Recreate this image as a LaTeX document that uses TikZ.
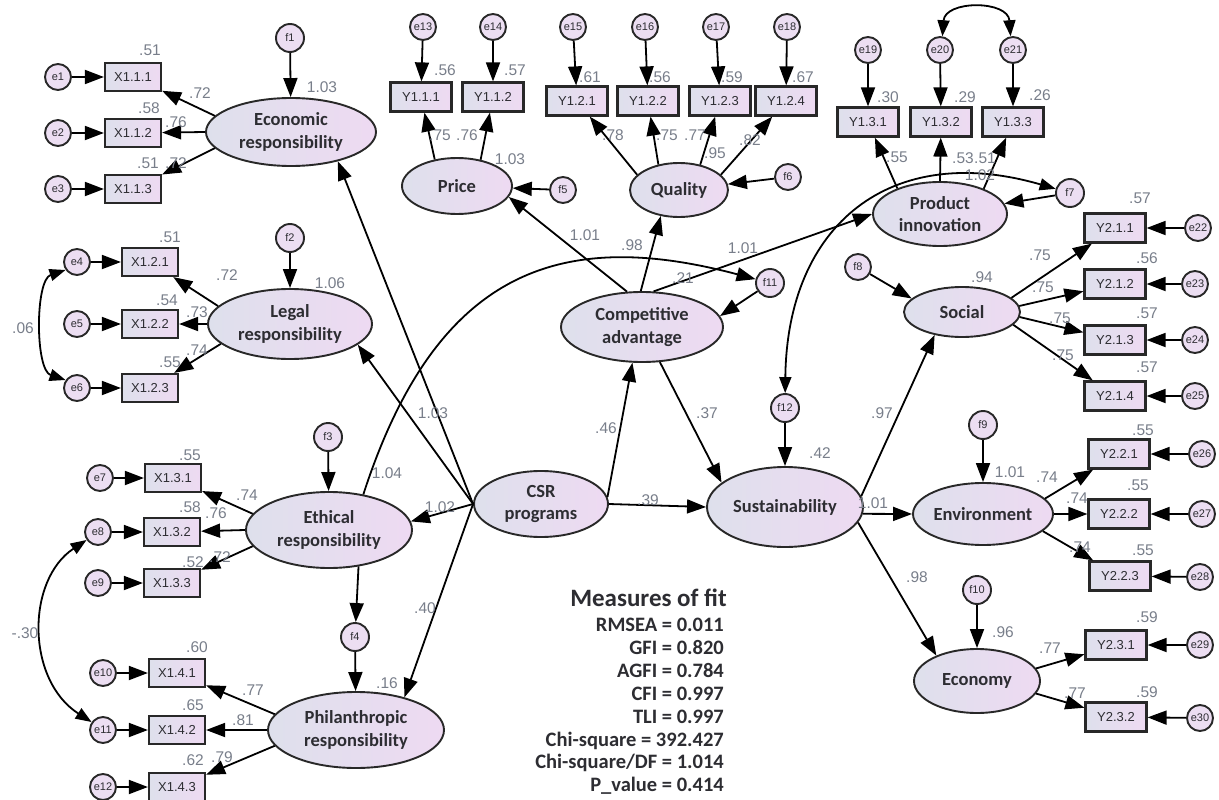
\documentclass[tikz,border=0pt]{standalone}
\usepackage{fontspec}
\setmainfont{Liberation Sans}
\newfontfamily\carl{Carlito}
\usetikzlibrary{shapes.geometric,arrows.meta}
\definecolor{linec}{RGB}{40,40,40}
\definecolor{fillL}{RGB}{222,224,236}
\definecolor{fillR}{RGB}{238,218,242}
\definecolor{circf}{RGB}{236,222,242}
\definecolor{labc}{RGB}{120,126,138}
\definecolor{txtc}{RGB}{45,45,50}
\tikzset{
 lat/.style={ellipse, draw=linec, line width=1.9pt, left color=fillL, right color=fillR, inner sep=0pt, align=center, text=txtc, font=\carl\bfseries\fontsize{18.5}{22.5}\selectfont},
 obs/.style={rectangle, draw=linec, line width=2.2pt, left color=fillL, right color=fillR, inner sep=0pt, minimum width=56pt, minimum height=28pt, font=\fontsize{13}{13}\selectfont, text=txtc},
 obsy/.style={obs, minimum width=61pt, minimum height=29pt},
 err/.style={circle, draw=linec, line width=1.9pt, fill=circf, inner sep=0pt, minimum size=26pt, font=\fontsize{11}{11}\selectfont, text=txtc},
 dstb/.style={err, minimum size=28pt},
 lab/.style={font=\fontsize{15.5}{15.5}\selectfont, text=labc, inner sep=0pt},
 fitt/.style={font=\carl\bfseries\fontsize{20.5}{20.5}\selectfont, text=txtc, inner sep=0pt, anchor=base east},
 arr/.style={draw=black, line width=1.8pt, -{Triangle[length=19pt,width=14pt]}},
 cov/.style={draw=black, line width=1.8pt, {Triangle[length=16pt,width=12pt]}-{Triangle[length=16pt,width=12pt]}},
}
\begin{document}
\begin{tikzpicture}[x=1pt,y=-1pt]
\useasboundingbox (0,0) rectangle (1219,800);
\fill[white] (0,0) rectangle (1219,800);
% latent variables
\node[lat, minimum width=170pt, minimum height=68pt] (econ) at (291,132) {Economic\\responsibility};
\node[lat, minimum width=164pt, minimum height=70pt] (legal) at (290,324) {Legal\\responsibility};
\node[lat, minimum width=166pt, minimum height=76pt] (eth) at (329,530) {Ethical\\responsibility};
\node[lat, minimum width=176pt, minimum height=76pt] (phil) at (356,730) {Philanthropic\\responsibility};
\node[lat, minimum width=134pt, minimum height=66pt] (csr) at (541,504) {CSR\\programs};
\node[lat, minimum width=110pt, minimum height=56pt] (price) at (457,186) {Price};
\node[lat, minimum width=98pt, minimum height=54pt] (qual) at (679,190) {Quality};
\node[lat, minimum width=162pt, minimum height=70pt] (comp) at (642,327) {Competitive\\advantage};
\node[lat, minimum width=134pt, minimum height=64pt] (prod) at (940,214) {Product\\innovation};
\node[lat, minimum width=156pt, minimum height=80pt] (sust) at (785,507) {Sustainability};
\node[lat, minimum width=116pt, minimum height=50pt] (soc) at (962,312) {Social};
\node[lat, minimum width=140pt, minimum height=62pt] (env) at (983,514) {Environment};
\node[lat, minimum width=126pt, minimum height=64pt] (ecny) at (977,681) {Economy};
% disturbances
\node[dstb] (f1) at (290,38) {f1};
\node[dstb] (f2) at (290,238) {f2};
\node[dstb] (f3) at (328,437) {f3};
\node[dstb] (f4) at (355,637) {f4};
\node[err] (f5) at (563,190) {f5};
\node[err] (f6) at (788,177) {f6};
\node[dstb] (f7) at (1070,193) {f7};
\node[err] (f8) at (858,267) {f8};
\node[dstb] (f9) at (983,425) {f9};
\node[dstb] (f10) at (977,590) {f10};
\node[dstb] (f11) at (770,283) {f11};
\node[dstb] (f12) at (785,408) {f12};
% observed X
\node[obs] (x111) at (133,77) {X1.1.1};
\node[obs] (x112) at (133,133) {X1.1.2};
\node[obs] (x113) at (133,189) {X1.1.3};
\node[obs] (x121) at (150,262) {X1.2.1};
\node[obs] (x122) at (150,324) {X1.2.2};
\node[obs] (x123) at (150,388) {X1.2.3};
\node[obs] (x131) at (173,478) {X1.3.1};
\node[obs] (x132) at (172,532) {X1.3.2};
\node[obs] (x133) at (172,583) {X1.3.3};
\node[obs] (x141) at (177,673) {X1.4.1};
\node[obs] (x142) at (177,730) {X1.4.2};
\node[obs] (x143) at (177,787) {X1.4.3};
% observed Y
\node[obsy] (y111) at (421,97) {Y1.1.1};
\node[obsy] (y112) at (493,97) {Y1.1.2};
\node[obsy] (y121) at (577,101) {Y1.2.1};
\node[obsy] (y122) at (648,101) {Y1.2.2};
\node[obsy] (y123) at (720,101) {Y1.2.3};
\node[obsy] (y124) at (786,101) {Y1.2.4};
\node[obsy] (y131) at (868,122) {Y1.3.1};
\node[obsy] (y132) at (941,122) {Y1.3.2};
\node[obsy] (y133) at (1013,122) {Y1.3.3};
\node[obsy] (y211) at (1115,228) {Y2.1.1};
\node[obsy] (y212) at (1115,284) {Y2.1.2};
\node[obsy] (y213) at (1115,340) {Y2.1.3};
\node[obsy] (y214) at (1115,396) {Y2.1.4};
\node[obsy] (y221) at (1119,454) {Y2.2.1};
\node[obsy] (y222) at (1119,514) {Y2.2.2};
\node[obsy] (y223) at (1120,576) {Y2.2.3};
\node[obsy] (y231) at (1116,645) {Y2.3.1};
\node[obsy] (y232) at (1116,717) {Y2.3.2};
% errors
\node[err] (e1) at (58,77) {e1};
\node[err] (e2) at (58,133) {e2};
\node[err] (e3) at (58,189) {e3};
\node[err] (e4) at (77,262) {e4};
\node[err] (e5) at (77,324) {e5};
\node[err] (e6) at (77,388) {e6};
\node[err] (e7) at (100,478) {e7};
\node[err] (e8) at (98,532) {e8};
\node[err] (e9) at (98,583) {e9};
\node[err] (e10) at (103,673) {e10};
\node[err] (e11) at (103,730) {e11};
\node[err] (e12) at (103,787) {e12};
\node[err] (e13) at (423,27) {e13};
\node[err] (e14) at (493,27) {e14};
\node[err] (e15) at (573,27) {e15};
\node[err] (e16) at (645,27) {e16};
\node[err] (e17) at (716,27) {e17};
\node[err] (e18) at (787,27) {e18};
\node[err] (e19) at (868,50) {e19};
\node[err] (e20) at (940,50) {e20};
\node[err] (e21) at (1013,50) {e21};
\node[err] (e22) at (1198,228) {e22};
\node[err] (e23) at (1195,284) {e23};
\node[err] (e24) at (1195,340) {e24};
\node[err] (e25) at (1195,396) {e25};
\node[err] (e26) at (1202,454) {e26};
\node[err] (e27) at (1202,514) {e27};
\node[err] (e28) at (1200,577) {e28};
\node[err] (e29) at (1200,645) {e29};
\node[err] (e30) at (1200,718) {e30};
% error arrows
\foreach \a/\b in {e1/x111,e2/x112,e3/x113,e4/x121,e5/x122,e6/x123,e7/x131,e8/x132,e9/x133,e10/x141,e11/x142,e12/x143,
 e13/y111,e14/y112,e15/y121,e16/y122,e17/y123,e18/y124,e19/y131,e20/y132,e21/y133,
 e22/y211,e23/y212,e24/y213,e25/y214,e26/y221,e27/y222,e28/y223,e29/y231,e30/y232}
 {\draw[arr] (\a) -- (\b);}
% loadings
\draw[arr] (econ.168) -- (x111);
\draw[arr] (econ.180) -- (x112);
\draw[arr] (econ.192) -- (x113);
\draw[arr] (legal.166) -- (x121);
\draw[arr] (legal.180) -- (x122);
\draw[arr] (legal.196) -- (x123);
\draw[arr] (eth.168) -- (x131);
\draw[arr] (eth.180) -- (x132);
\draw[arr] (eth.192) -- (x133);
\draw[arr] (phil.169) -- (x141);
\draw[arr] (phil.180) -- (x142);
\draw[arr] (phil.191) -- (x143);
\draw[arr] (price.130) -- (y111);
\draw[arr] (price.48) -- (y112);
\draw[arr] (qual.160) -- (y121);
\draw[arr] (qual.129) -- (y122);
\draw[arr] (qual.50) -- (y123);
\draw[arr] (qual.20) -- (y124);
\draw[arr] (prod.149) -- (y131);
\draw[arr] (prod.90) -- (y132);
\draw[arr] (prod.30) -- (y133);
\draw[arr] (soc.16) -- (y211);
\draw[arr] (soc.6) -- (y212);
\draw[arr] (soc.-5) -- (y213);
\draw[arr] (soc.-14) -- (y214);
\draw[arr] (env.14) -- (y221);
\draw[arr] (env.0) -- (y222);
\draw[arr] (env.-16) -- (y223);
\draw[arr] (ecny.12) -- (y231);
\draw[arr] (ecny.-12) -- (y232);
% structural paths
\draw[arr] (csr.west) -- (econ.-32);
\draw[arr] (csr.west) -- (legal.-17);
\draw[arr] (csr.west) -- (eth.6);
\draw[arr] (csr.west) -- (phil.34);
\draw[arr] (csr.6) -- (comp.-105);
\draw[arr] (csr.east) -- (sust.west);
\draw[arr] (comp.113) -- (price.-12);
\draw[arr] (comp.92) -- (qual.-125);
\draw[arr] (comp.72) -- (prod.west);
\draw[arr] (comp.-63) -- (sust.159);
\draw[arr] (f11) -- (comp.8);
\draw[arr] (f12) -- (sust.north);
\draw[arr] (sust.8) -- (soc.-140);
\draw[arr] (sust.-5) -- (env.west);
\draw[arr] (sust.-12) -- (ecny.148);
\draw[arr] (f8) -- (soc.165);
\draw[arr] (f9) -- (env);
\draw[arr] (f10) -- (ecny);
\draw[arr] (f5) -- (price);
\draw[arr] (f6) -- (qual);
\draw[arr] (f7) -- (prod);
\draw[arr] (f1) -- (econ);
\draw[arr] (f2) -- (legal);
\draw[arr] (f3) -- (eth);
\draw[arr] (eth.-51) -- (f4);
\draw[arr] (f4) -- (phil);
\draw[arr] (eth.46) .. controls (437,267) and (563,228) .. (f11);
\draw[cov] (f12) .. controls (787,224) and (891,141) .. (f7);
\draw[cov] (e4.215) .. controls (35,280) and (35,370) .. (e6.145);
\draw[cov] (e8.215) .. controls (26,580) and (26,680) .. (e11.145);
\draw[cov] (e20.80) .. controls (945,0) and (1008,0) .. (e21.100);
% estimates
\foreach \x/\y/\t [count=\i] in {150/50/.51, 200/93/.72, 149/108/.58, 176/122/.76, 148/163/.51, 176/163/.72, 322/87/1.03,
170/237/.51, 227/275/.72, 167/300/.54, 197/312/.73, 170/362/.55, 197/350/.74, 330/283/1.06, 23/328/.06,
190/455/.55, 247/495/.74, 190/507/.58, 216/513/.76, 193/562/.52, 220/557/.72, 387/473/1.04,
197/647/.60, 253/690/.77, 193/705/.65, 243/720/.81, 193/760/.62, 222/757/.79, 387/683/.16, 25/633/-.30,
433/413/1.03, 440/507/1.02, 425/608/.40,
445/70/.56, 515/70/.57, 440/135/.75, 467/135/.76, 510/159/1.03,
590/77/.61, 660/77/.56, 732/77/.59, 803/77/.67, 613/135/.78, 667/135/.75, 695/135/.77, 715/153/.95, 750/140/.82,
585/235/1.01, 632/245/.98, 743/248/1.01, 683/278/.21,
888/97/.30, 965/97/.29, 1040/95/.26, 897/157/.55, 963/158/.53, 985/158/.51, 980/175/1.02,
606/428/.46, 707/413/.37, 648/500/.39, 820/453/.42,
1140/198/.57, 1040/255/.75, 1147/258/.56, 1043/287/.75, 1147/313/.57, 1060/318/.75, 1147/367/.57, 1063/355/.75, 982/277/.94, 882/413/.97,
1010/472/1.01, 873/503/1.01, 1047/477/.74, 1143/430/.55, 1077/498/.74, 1138/485/.55, 1080/547/.74, 1143/550/.55,
917/577/.98, 1003/632/.96, 1050/648/.77, 1147/617/.59, 1075/693/.77, 1147/692/.59}
 {\node[lab] (lab\i) at (\x,\y) {\t};}
% measures of fit
\node[fitt, font=\carl\bfseries\fontsize{25}{25}\selectfont] (mfit) at (727,606) {Measures of fit};
\foreach \y/\t [count=\i] in {631/{RMSEA = 0.011}, 654/{GFI = 0.820}, 677/{AGFI = 0.784}, 700/{CFI = 0.997}, 723/{TLI = 0.997}, 746/{Chi-square = 392.427}, 768/{Chi-square/DF = 1.014}, 791/{P\_value = 0.414}}
 {\node[fitt] (fit\i) at (724,\y) {\t};}
\end{tikzpicture}
\end{document}
